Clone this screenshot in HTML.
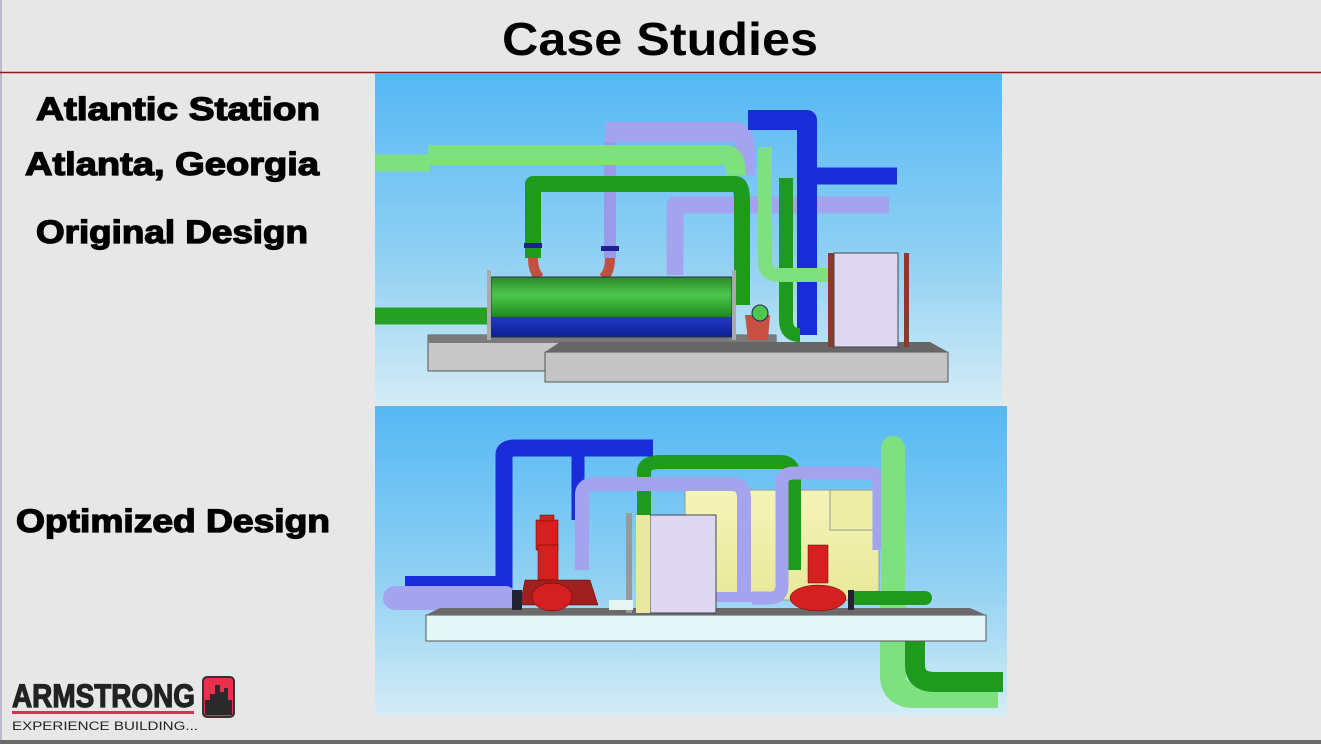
<!DOCTYPE html>
<html><head><meta charset="utf-8"><style>
html,body{margin:0;padding:0;width:1321px;height:744px;overflow:hidden;background:#e6e7e6}
svg{display:block}
</style></head><body>
<svg width="1321" height="744" viewBox="0 0 1321 744" xmlns="http://www.w3.org/2000/svg">
<defs>
<linearGradient id="sky" x1="0" y1="0" x2="0" y2="1">
<stop offset="0" stop-color="#55b8f5"/><stop offset="0.55" stop-color="#8fd0f3"/><stop offset="1" stop-color="#d4ecf6"/>
</linearGradient>
<linearGradient id="tank" x1="0" y1="0" x2="0" y2="1">
<stop offset="0" stop-color="#2a8a2a"/><stop offset="0.3" stop-color="#4cc64c"/><stop offset="0.66" stop-color="#1f8a1f"/><stop offset="0.67" stop-color="#2438c8"/><stop offset="1" stop-color="#0a1f90"/>
</linearGradient>
<linearGradient id="yel" x1="0" y1="0" x2="0" y2="1">
<stop offset="0" stop-color="#f4f4b8"/><stop offset="1" stop-color="#e8e89a"/>
</linearGradient>
</defs>
<rect x="0" y="0" width="1321" height="744" fill="#e6e7e6"/>
<rect x="0" y="0" width="2" height="744" fill="#b8bcc8"/>
<line x1="0" y1="72.5" x2="1321" y2="72.5" stroke="#8e1a1a" stroke-width="1.5"/>
<rect x="0" y="740" width="1321" height="4" fill="#6a6a6a"/>

<text x="502" y="55" font-family="Liberation Sans, sans-serif" font-weight="bold" font-size="46" textLength="316" lengthAdjust="spacingAndGlyphs">Case Studies</text>
<g font-family="Liberation Sans, sans-serif" font-weight="bold" font-size="32" fill="#000" stroke="#000" stroke-width="1.3">
<text x="36" y="120" textLength="284" lengthAdjust="spacingAndGlyphs">Atlantic Station</text>
<text x="25" y="175" textLength="294" lengthAdjust="spacingAndGlyphs">Atlanta, Georgia</text>
<text x="36" y="243" textLength="272" lengthAdjust="spacingAndGlyphs">Original Design</text>
<text x="16" y="532" textLength="314" lengthAdjust="spacingAndGlyphs">Optimized Design</text>
</g>

<!-- TOP IMAGE -->
<rect x="375" y="73" width="627" height="331" fill="url(#sky)"/>
<g stroke-linecap="butt" stroke-linejoin="round" fill="none">
<rect x="428" y="335" width="348" height="36" fill="#c8c8c8" stroke="#555" stroke-width="1"/>
<rect x="428" y="335" width="348" height="8" fill="#7a7a7a"/>
<rect x="545" y="352" width="403" height="30" fill="#c4c4c4" stroke="#555" stroke-width="1"/>
<polygon points="545,352 560,342 930,342 948,352" fill="#666"/>
<path d="M610 258 V140" stroke="#9a9ae8" stroke-width="12"/>
<path d="M605 132 H735 Q745 132 745 150 V175" stroke="#a4a4ee" stroke-width="20"/>
<path d="M675 275 V205 H889" stroke="#a4a4ee" stroke-width="17"/>
<path d="M748 120 H807 V335" stroke="#1a2cd8" stroke-width="20"/>
<path d="M807 176 H897" stroke="#1a2cd8" stroke-width="17"/>
<path d="M533 258 V184 H735 Q742 184 742 200 V305" stroke="#1e9a1e" stroke-width="16"/>
<path d="M786 178 V320 Q786 335 800 335" stroke="#1e9a1e" stroke-width="14"/>
<path d="M375 163 H430" stroke="#7ee07e" stroke-width="17"/>
<path d="M428 155 H725 Q736 155 736 175" stroke="#7ee07e" stroke-width="20"/>
<path d="M765 147 V262 Q765 275 780 275 H833" stroke="#7ee07e" stroke-width="14"/>
<path d="M375 316 H487" stroke="#25a025" stroke-width="17"/>
<path d="M533 258 Q533 272 540 278" stroke="#c05040" stroke-width="10"/>
<path d="M610 258 Q610 272 603 278" stroke="#c05040" stroke-width="10"/>
<rect x="524" y="243" width="18" height="5" fill="#1a2090"/>
<rect x="601" y="246" width="18" height="5" fill="#1a2090"/>
<rect x="491" y="277" width="241" height="60" fill="url(#tank)" stroke="#234" stroke-width="1"/>
<rect x="487" y="270" width="4" height="70" fill="#aaa"/>
<rect x="732" y="270" width="4" height="70" fill="#aaa"/>
<path d="M745 315 L770 315 L768 340 L748 340 Z" fill="#c85040"/>
<circle cx="760" cy="313" r="8" fill="#4cc64c" stroke="#225" stroke-width="1"/>
<rect x="828" y="253" width="6" height="94" fill="#8a3a2a"/>
<rect x="834" y="253" width="64" height="94" fill="#ddd8f0" stroke="#445" stroke-width="1"/>
<rect x="904" y="253" width="5" height="94" fill="#8a3a2a"/>
</g>

<!-- BOTTOM IMAGE -->
<rect x="375" y="406" width="632" height="310" fill="url(#sky)"/>
<g fill="none" stroke-linejoin="round">
<path d="M893 600 V675 Q893 695 915 695 H998" stroke="#7ee07e" stroke-width="26"/>
<path d="M915 640 V665 Q915 682 935 682 H1003" stroke="#1e9a1e" stroke-width="20"/>
<rect x="685" y="490" width="194" height="110" fill="url(#yel)" stroke="#999" stroke-width="1"/>
<rect x="830" y="490" width="60" height="40" fill="#eeeea8" stroke="#999" stroke-width="1"/>
<path d="M644 570 V472 Q644 462 660 462 H780 Q794 462 794 478 V570" stroke="#1e9a1e" stroke-width="14"/>
<path d="M504 590 V455 Q504 448 515 448 H653" stroke="#1a2cd8" stroke-width="17"/>
<path d="M578 520 V450" stroke="#1a2cd8" stroke-width="13"/>
<path d="M405 583 H500" stroke="#1a2cd8" stroke-width="14"/>
<path d="M395 598 H505" stroke="#a4a4ee" stroke-width="24" stroke-linecap="round"/>
<path d="M582 570 V495 Q582 484 596 484 H732 Q744 484 744 498 V600" stroke="#a4a4ee" stroke-width="14"/>
<path d="M752 598 H770 Q782 598 782 585 V482 Q782 473 795 473 H870 Q879 473 879 485 V550" stroke="#a4a4ee" stroke-width="13"/>
<path d="M716 597 H752" stroke="#a4a4ee" stroke-width="10"/>
<path d="M893 612 V448" stroke="#7ee07e" stroke-width="24" stroke-linecap="round"/>
<path d="M855 598 H925" stroke="#1e9a1e" stroke-width="14" stroke-linecap="round"/>
<rect x="426" y="615" width="560" height="26" fill="#e4f6f8" stroke="#555" stroke-width="1"/>
<polygon points="426,615 440,608 970,608 986,615" fill="#6a6a6a"/>
<rect x="626" y="513" width="6" height="100" fill="#999"/>
<rect x="650" y="515" width="66" height="98" fill="#ddd8f0" stroke="#445" stroke-width="1"/>
<rect x="636" y="515" width="14" height="98" fill="#e8e8a0"/>
<rect x="609" y="600" width="24" height="10" fill="#e8f4f4"/>
<g fill="#d42020" stroke="#600" stroke-width="0.5">
<rect x="536" y="520" width="22" height="30"/>
<rect x="540" y="515" width="14" height="6"/>
<rect x="538" y="545" width="20" height="35"/>
<path d="M525 580 H590 L598 605 H520 Z" fill="#a02020"/>
<ellipse cx="552" cy="597" rx="20" ry="14"/>
<rect x="808" y="545" width="20" height="38"/>
<ellipse cx="818" cy="598" rx="28" ry="13"/>
</g>
<rect x="512" y="590" width="10" height="20" fill="#223"/>
<rect x="848" y="590" width="6" height="20" fill="#223"/>
</g>

<!-- logo -->
<text x="12" y="707" font-family="Liberation Sans, sans-serif" font-weight="bold" font-size="32" fill="#222" stroke="#222" stroke-width="1.2" textLength="183" lengthAdjust="spacingAndGlyphs">ARMSTRONG</text>
<rect x="12" y="711" width="182" height="3" fill="#d83050"/>
<text x="12" y="730" font-family="Liberation Sans, sans-serif" font-size="12" fill="#222" textLength="186" lengthAdjust="spacingAndGlyphs">EXPERIENCE BUILDING...</text>
<rect x="203" y="677" width="31" height="40" rx="4" fill="#e8304c" stroke="#333" stroke-width="2"/>
<path d="M205 715 V700 H210 V694 H215 V685 H220 V692 H224 V688 H228 V700 H232 V715 Z" fill="#2a2a2a"/>
</svg>
</body></html>
